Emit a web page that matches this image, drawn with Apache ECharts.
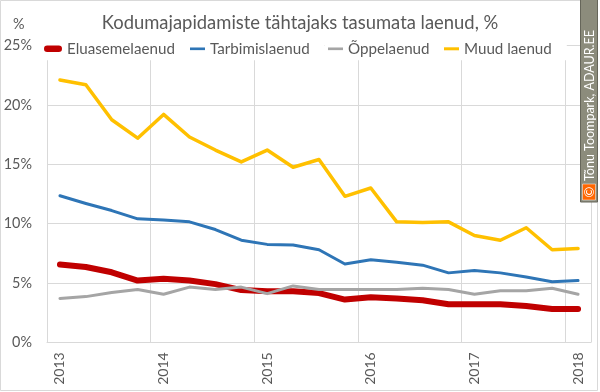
<!DOCTYPE html>
<html>
<head>
<meta charset="utf-8">
<script src="https://cdn.jsdelivr.net/npm/echarts@6/dist/echarts.min.js"></script>
<style>
html,body{margin:0;padding:0;background:#fff;}
#c{width:600px;height:392px;}
</style>
</head>
<body>
<div id="c"></div>
<script>
const categories = [
  '2013 Q1','2013 Q2','2013 Q3','2013 Q4',
  '2014 Q1','2014 Q2','2014 Q3','2014 Q4',
  '2015 Q1','2015 Q2','2015 Q3','2015 Q4',
  '2016 Q1','2016 Q2','2016 Q3','2016 Q4',
  '2017 Q1','2017 Q2','2017 Q3','2017 Q4',
  '2018 Q1'
];
const seriesNames = ['Eluasemelaenud', 'Tarbimislaenud', 'Õppelaenud', 'Muud laenud'];
const eluasemelaenud = [6.55,6.35,5.9,5.2,5.35,5.2,4.9,4.4,4.3,4.3,4.15,3.6,3.8,3.7,3.55,3.2,3.2,3.2,3.05,2.8,2.8];
const tarbimislaenud = [12.35,11.7,11.1,10.4,10.3,10.15,9.5,8.6,8.25,8.2,7.8,6.6,6.95,6.75,6.5,5.85,6.05,5.85,5.5,5.1,5.2];
const oppelaenud = [3.7,3.85,4.2,4.45,4.05,4.65,4.45,4.65,4.1,4.75,4.45,4.45,4.45,4.45,4.55,4.45,4.05,4.35,4.35,4.55,4.05];
const muudLaenud = [22.1,21.7,18.75,17.2,19.2,17.3,16.2,15.2,16.2,14.75,15.4,12.3,13.0,10.15,10.1,10.15,9.0,8.6,9.65,7.8,7.9];
const yTicks = [0, 5, 10, 15, 20, 25];
const titleText = 'Kodumajapidamiste tähtajaks tasumata laenud, %';
const watermarkText = 'Tõnu Toompark, ADAUR.EE';

const FONT = 'Lato';
const TXT = '#595959';
const GRID = '#D9D9D9';
const colors = ['#C00000', '#2E75B6', '#A5A5A5', '#FFC000'];
const widths = [6, 3, 3, 3.5];
const values = [eluasemelaenud, tarbimislaenud, oppelaenud, muudLaenud];

// Fit font sizes to the reference text widths
const mctx = document.createElement('canvas').getContext('2d');
function fitSize(text, target) {
  mctx.font = '100px ' + FONT;
  return 100 * target / mctx.measureText(text).width;
}
const titleSize = fitSize(titleText, 397);
const legendSize = fitSize(seriesNames[0], 108);
const legendTextStarts = [67, 210, 348, 464];
const iconWidths = [18, 15, 15, 15];
const iconPaths = [
  'path://M3.2,0H14.8A3.2,3.2 0 0 1 14.8,6.4H3.2A3.2,3.2 0 0 1 3.2,0Z',
  'path://M0,0H17V3H0Z',
  'path://M0,0H17V3H0Z',
  'path://M0,0H17V3.4H0Z'
];
const PAD = [4, 15, 4, 3];
const legendCenterY = 48.3;

const legends = seriesNames.map((n, i) => ({
  left: legendTextStarts[i] - iconWidths[i] - 5 - PAD[3],
  top: legendCenterY - 7 - PAD[0],
  padding: PAD,
  backgroundColor: '#fff',
  itemWidth: iconWidths[i],
  itemHeight: 14,
  symbolKeepAspect: true,
  textStyle: {fontFamily: FONT, fontSize: legendSize, color: TXT},
  data: [{name: n, icon: iconPaths[i]}]
}));

const chart = echarts.init(document.getElementById('c'), null, {renderer: 'canvas'});
chart.setOption({
  animation: false,
  backgroundColor: '#fff',
  textStyle: {fontFamily: FONT},
  title: {
    text: titleText,
    left: 'center',
    top: 9,
    textStyle: {fontFamily: FONT, fontSize: titleSize, fontWeight: 'normal', color: TXT}
  },
  legend: legends,
  grid: {left: 47, right: 9, top: 45.6, bottom: 49.7, containLabel: false},
  xAxis: {
    type: 'category',
    data: categories,
    boundaryGap: true,
    axisLine: {show: true, lineStyle: {color: GRID, width: 1}},
    axisTick: {show: false},
    axisLabel: {
      interval: 3,
      rotate: 90,
      margin: 10,
      fontFamily: FONT,
      fontSize: 14,
      color: TXT,
      formatter: v => v.slice(0, 4)
    },
    splitLine: {show: true, interval: 3, lineStyle: {color: GRID, width: 1}}
  },
  yAxis: {
    type: 'value',
    min: yTicks[0],
    max: yTicks[yTicks.length - 1],
    interval: 5,
    axisLine: {show: false},
    axisTick: {show: false},
    axisLabel: {fontFamily: FONT, fontSize: 14.4, color: TXT, margin: 15, formatter: '{value}%'},
    splitLine: {lineStyle: {color: GRID, width: 1}}
  },
  series: seriesNames.map((n, i) => ({
    name: n,
    type: 'line',
    data: values[i],
    symbol: 'none',
    smooth: false,
    color: colors[i],
    itemStyle: {color: colors[i]},
    lineStyle: {color: colors[i], width: widths[i], cap: 'round', join: 'round'}
  })),
  graphic: [
    {
      type: 'rect', silent: true, z: -1,
      shape: {x: 0.5, y: 0.5, width: 597, height: 390},
      style: {fill: 'none', stroke: GRID, lineWidth: 1}
    },
    {
      type: 'text', silent: true,
      left: 13, top: 17,
      style: {text: '%', fontFamily: FONT, fontSize: 14.4, fill: TXT}
    },
    {
      type: 'rect', silent: true, z: 100,
      shape: {x: 580.5, y: -1, width: 17, height: 203},
      style: {fill: '#8C8C7C', stroke: '#66665A', lineWidth: 1}
    },
    {
      type: 'rect', silent: true, z: 101,
      shape: {x: 582.5, y: 184, width: 13, height: 16},
      style: {fill: '#FF6600', stroke: '#FFFFFF', lineWidth: 0.5}
    },
    {
      type: 'text', silent: true, z: 102,
      x: 589.5, y: 192, rotation: Math.PI / 2,
      style: {text: '©', fontFamily: FONT, fontSize: 13, fill: '#fff', align: 'center', verticalAlign: 'middle'}
    },
    {
      type: 'text', silent: true, z: 102,
      x: 589.5, y: 181, rotation: Math.PI / 2,
      style: {text: watermarkText, fontFamily: FONT, fontSize: 12.5, fill: '#fff', align: 'left', verticalAlign: 'middle'}
    }
  ]
});
</script>
</body>
</html>
